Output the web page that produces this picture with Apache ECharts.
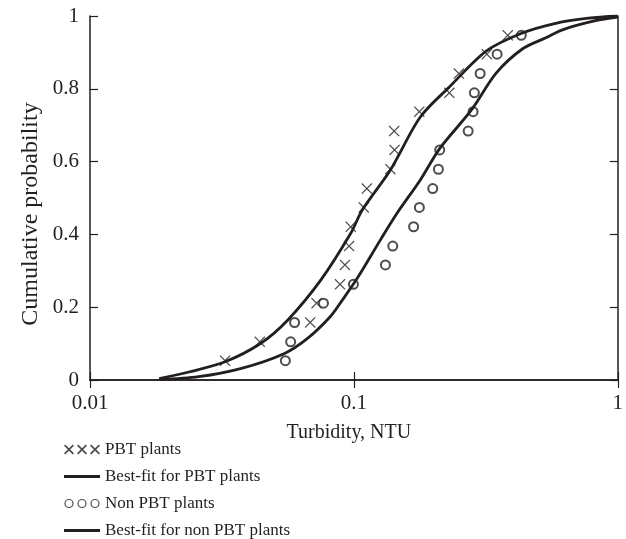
<!DOCTYPE html>
<html>
<head>
<meta charset="utf-8">
<script src="https://cdn.jsdelivr.net/npm/echarts@6/dist/echarts.min.js"></script>
<style>
  html, body { margin: 0; padding: 0; background: #fff; }
  #m1 { width: 626px; height: 539px; }
</style>
</head>
<body>
<div id="m1"></div>
<script>
// cumulative probability (plotting positions shared by both groups)
var probs = [0.053, 0.105, 0.158, 0.211, 0.263, 0.316, 0.368, 0.421, 0.474,
             0.526, 0.579, 0.632, 0.684, 0.737, 0.789, 0.842, 0.895, 0.947];
// turbidity, NTU
var pbtX = [0.0325, 0.0440, 0.0683, 0.0722, 0.0886, 0.0925, 0.0959, 0.0973, 0.109,
            0.112, 0.1375, 0.1426, 0.1421, 0.177, 0.230, 0.250, 0.319, 0.383];
var nonPbtX = [0.0550, 0.0576, 0.0596, 0.0767, 0.0996, 0.1317, 0.1404, 0.1684, 0.1771,
               0.199, 0.2091, 0.2115, 0.2711, 0.283, 0.2862, 0.301, 0.349, 0.431];

// best-fit curves
var pbtFitX = [0.0183, 0.0237, 0.0325, 0.0444, 0.0562, 0.0750, 0.0973, 0.1076, 0.1375,
               0.1783, 0.230, 0.318, 0.430, 0.582, 0.775, 1.0];
var pbtFitY = [0.004, 0.022, 0.050, 0.101, 0.165, 0.275, 0.403, 0.467, 0.577,
               0.722, 0.805, 0.904, 0.952, 0.980, 0.994, 1.0];
var nonFitX = [0.0183, 0.0258, 0.0375, 0.0546, 0.0669, 0.0818, 0.0905, 0.1031, 0.1261,
               0.1457, 0.1783, 0.212, 0.279, 0.346, 0.436, 0.534, 0.617, 0.823, 1.0];
var nonFitY = [0.001, 0.009, 0.032, 0.073, 0.115, 0.176, 0.220, 0.280, 0.385,
               0.458, 0.549, 0.637, 0.742, 0.843, 0.910, 0.940, 0.962, 0.987, 0.997];

var xTicks = [0.01, 0.1, 1];
var yTicks = [0, 0.2, 0.4, 0.6, 0.8, 1];

var ink = '#231f20';
var font = '"Liberation Serif", "Times New Roman", serif';

function pairs(xs, ys) {
    return xs.map(function (x, i) { return [x, ys[i]]; });
}

// x-shaped marker as a filled outline
function crossPath(ox, d) {
    var p = [[0, d], [d, 0], [5, 5 - d], [10 - d, 0], [10, d], [5 + d, 5],
             [10, 10 - d], [10 - d, 10], [5, 5 + d], [d, 10], [0, 10 - d], [5 - d, 5]];
    return 'M' + p.map(function (q) { return (q[0] + ox) + ',' + q[1]; }).join(' L') + ' Z';
}
function ringPath(cx, r1, r2) {
    return 'M' + (cx - r1) + ',5 A' + r1 + ',' + r1 + ' 0 1,1 ' + (cx + r1) + ',5 A' + r1 + ',' + r1 + ' 0 1,1 ' + (cx - r1) + ',5 Z ' +
           'M' + (cx - r2) + ',5 A' + r2 + ',' + r2 + ' 0 1,0 ' + (cx + r2) + ',5 A' + r2 + ',' + r2 + ' 0 1,0 ' + (cx - r2) + ',5 Z';
}
var markX = 'path://' + crossPath(0, 0.8);
var legX = 'path://' + crossPath(0, 1.2) + ' ' + crossPath(13, 1.2) + ' ' + crossPath(26, 1.2);
var legO = 'path://' + ringPath(5, 4.6, 3.4) + ' ' + ringPath(18, 4.6, 3.4) + ' ' + ringPath(31, 4.6, 3.4) +
           ' M0,0 L0.001,0 Z M36,10 L35.999,10 Z';
var legLine = 'path://M0,0 L0.001,0 Z M0,3.6 L36,3.6 L36,6.4 L0,6.4 Z M36,10 L35.999,10 Z';

var myChart = echarts.init(document.getElementById('m1'), null, { renderer: 'canvas' });

var axisLine = { show: true, lineStyle: { color: ink, width: 1.5 } };
var tick = { show: true, inside: true, length: 8, lineStyle: { color: ink, width: 1.2 } };
var label = { color: ink, fontFamily: font, fontSize: 21 };

var option = {
    backgroundColor: '#fff',
    animation: false,
    grid: { left: 90, right: 4, top: 16, bottom: 159 },
    xAxis: [
        {
            type: 'log', logBase: 10, min: xTicks[0], max: xTicks[xTicks.length - 1],
            position: 'bottom',
            name: 'Turbidity, NTU', nameLocation: 'middle', nameGap: 43,
            nameTextStyle: { color: ink, fontFamily: font, fontSize: 20, padding: [0, 10, 0, 0] },
            axisLine: axisLine, axisTick: tick,
            axisLabel: Object.assign({ margin: 13 }, label),
            splitLine: { show: false }, minorTick: { show: false }
        },
        {
            type: 'log', logBase: 10, min: xTicks[0], max: xTicks[xTicks.length - 1],
            position: 'top',
            axisLine: axisLine, axisTick: tick, axisLabel: { show: false },
            splitLine: { show: false }
        }
    ],
    yAxis: [
        {
            type: 'value', min: yTicks[0], max: yTicks[yTicks.length - 1], interval: 0.2,
            position: 'left',
            axisLine: axisLine, axisTick: tick,
            axisLabel: Object.assign({ margin: 11 }, label),
            splitLine: { show: false }
        },
        {
            type: 'value', min: yTicks[0], max: yTicks[yTicks.length - 1], interval: 0.2,
            position: 'right',
            axisLine: axisLine, axisTick: tick, axisLabel: { show: false },
            splitLine: { show: false }
        }
    ],
    graphic: [
        {
            type: 'text', x: 31, y: 214, rotation: Math.PI / 2,
            style: {
                text: 'Cumulative probability', fill: ink, font: '24px ' + font,
                textAlign: 'center', textVerticalAlign: 'middle'
            }
        }
    ],
    legend: {
        orient: 'vertical', left: 64, top: 441, padding: 0,
        itemWidth: 36, itemHeight: 10, itemGap: 10,
        textStyle: { color: ink, fontFamily: font, fontSize: 17, lineHeight: 17 },
        data: [
            { name: 'PBT plants', icon: legX, itemStyle: { color: ink, borderWidth: 0 } },
            { name: 'Best-fit for PBT plants', icon: legLine, itemStyle: { color: ink, borderWidth: 0 } },
            { name: 'Non PBT plants', icon: legO, itemStyle: { color: ink, borderWidth: 0 } },
            { name: 'Best-fit for non PBT plants', icon: legLine, itemStyle: { color: ink, borderWidth: 0 } }
        ]
    },
    series: [
        {
            name: 'PBT plants', type: 'scatter',
            symbol: markX, symbolSize: 11,
            itemStyle: { color: ink },
            data: pairs(pbtX, probs)
        },
        {
            name: 'Non PBT plants', type: 'scatter',
            symbol: 'emptyCircle', symbolSize: 9,
            itemStyle: { color: ink, borderColor: ink, borderWidth: 1.2 },
            data: pairs(nonPbtX, probs)
        },
        {
            name: 'Best-fit for PBT plants', type: 'line',
            smooth: 0.3, symbol: 'none',
            color: ink, lineStyle: { color: ink, width: 2.8 },
            data: pairs(pbtFitX, pbtFitY)
        },
        {
            name: 'Best-fit for non PBT plants', type: 'line',
            smooth: 0.3, symbol: 'none',
            color: ink, lineStyle: { color: ink, width: 2.8 },
            data: pairs(nonFitX, nonFitY)
        }
    ]
};
myChart.setOption(option);
</script>
</body>
</html>
